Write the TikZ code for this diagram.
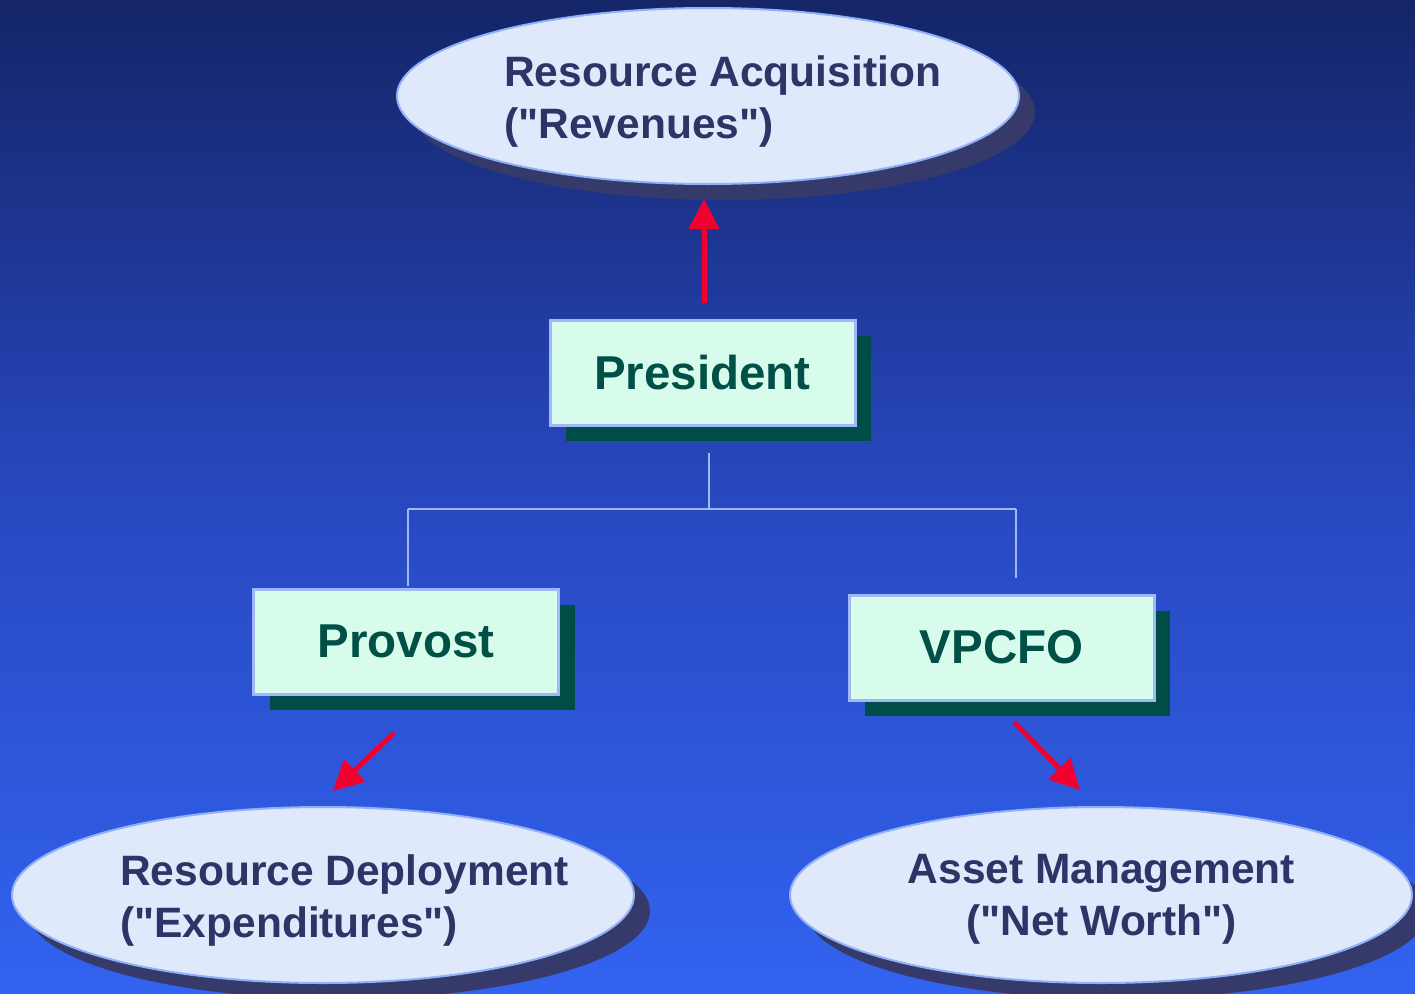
\documentclass[tikz,border=0pt]{standalone}
\usepackage{fontspec}
\setmainfont{Liberation Sans}[Ligatures=TeXOff]
\usetikzlibrary{shapes.geometric,arrows.meta,shadows}
\definecolor{bgtop}{HTML}{142568}
\definecolor{bgmid}{HTML}{2848C0}
\definecolor{bgbot}{HTML}{3263F0}
\definecolor{ellfill}{HTML}{E0E8FC}
\definecolor{elldraw}{HTML}{90B0F8}
\definecolor{ellshadow}{HTML}{363A6A}
\definecolor{elltext}{HTML}{2E3466}
\definecolor{boxfill}{HTML}{D8FCEC}
\definecolor{boxdraw}{HTML}{A0B8F8}
\definecolor{boxshadow}{HTML}{004D47}
\definecolor{boxtext}{HTML}{005048}
\definecolor{arrowred}{HTML}{F20030}
\definecolor{connblue}{HTML}{A0B8F8}
\tikzset{
  goal/.style={ellipse, minimum width=622pt, minimum height=176pt, inner sep=0pt,
    fill=ellfill, draw=elldraw, line width=2pt,
    general shadow={fill=ellshadow, draw=none, shadow xshift=16pt, shadow yshift=-16pt}},
  goaltext/.style={font=\fontsize{42.5}{52}\selectfont\bfseries, text=elltext, inner sep=0pt},
  officer/.style={rectangle, minimum width=305pt, minimum height=105pt, inner sep=0pt,
    fill=boxfill, draw=boxdraw, line width=3pt, text=boxtext,
    font=\fontsize{47.5}{56}\selectfont\bfseries,
    general shadow={fill=boxshadow, draw=none, shadow xshift=16pt, shadow yshift=-16pt}},
  redarrow/.style={draw=arrowred, line width=5pt, -{Triangle[width=30pt,length=30pt]}},
  orgline/.style={draw=connblue, line width=2pt}
}
\begin{document}
\begin{tikzpicture}[x=1pt,y=-1pt]
\useasboundingbox (0,0) rectangle (1415,993);
\shade[top color=bgtop, bottom color=bgbot, middle color=bgmid] (0,0) rectangle (1415,993);

% ellipses
\node[goal] (acq) at (708,96) {};
\node[goal] (dep) at (323,895) {};
\node[goal] (asset) at (1101,895) {};
\node[goaltext, anchor=north west, align=left] (acqtxt) at (504,56) {Resource Acquisition\\("Revenues")};
\node[goaltext, anchor=north west, align=left] (deptxt) at (120,854) {Resource Deployment\\("Expenditures")};
\node[goaltext, anchor=north, align=center] (assettxt) at (1101.5,854) {Asset Management\\("Net Worth")};

% boxes
\node[officer] (pres) at (702.5,372.5) {President};
\node[officer] (prov) at (406,641.5) {Provost};
\node[officer] (vpcfo) at (1001.5,647.5) {VPCFO};

% org connectors
\coordinate (j0) at (709,453);
\coordinate (jm) at (709,509);
\coordinate (jl) at (408,509);
\coordinate (jr) at (1016,509);
\coordinate (el) at (408,586);
\coordinate (er) at (1016,578);
\draw[orgline] (j0) -- (jm);
\draw[orgline] (jl) -- (jr);
\draw[orgline] (jl) -- (el);
\draw[orgline] (jr) -- (er);

% red arrows
\coordinate (a1s) at (704,303);
\coordinate (a1e) at (704,199);
\coordinate (a2s) at (394,733);
\coordinate (a2e) at (333,791);
\coordinate (a3s) at (1014,722);
\coordinate (a3e) at (1080,790);
\draw[redarrow] (a1s) -- (a1e);
\draw[redarrow] (a2s) -- (a2e);
\draw[redarrow] (a3s) -- (a3e);
\end{tikzpicture}
\end{document}
